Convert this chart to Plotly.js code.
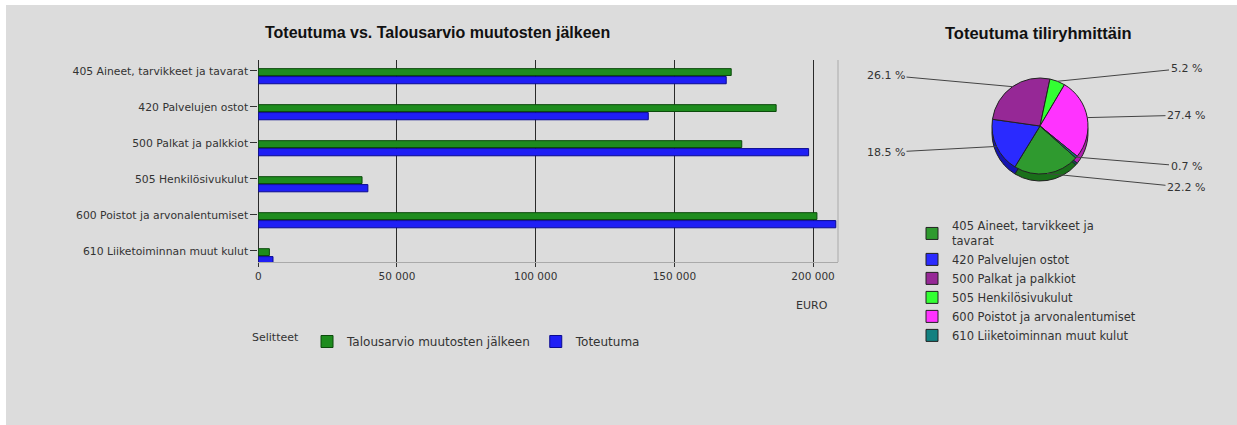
<!DOCTYPE html>
<html>
<head>
<meta charset="utf-8">
<script src="https://cdn.plot.ly/plotly-3.0.1.min.js"></script>
<style>html,body{margin:0;padding:0;background:#fff;}#chart{width:1237px;height:425px;}</style>
</head>
<body>
<div id="chart"></div>
<script>
// ---- data ----
const categories = [
  "405 Aineet, tarvikkeet ja tavarat",
  "420 Palvelujen ostot",
  "500 Palkat ja palkkiot",
  "505 Henkilösivukulut",
  "600 Poistot ja arvonalentumiset",
  "610 Liiketoiminnan muut kulut"
];
const pieLabels = [
  "405 Aineet, tarvikkeet ja<br>tavarat",
  "420 Palvelujen ostot",
  "500 Palkat ja palkkiot",
  "505 Henkilösivukulut",
  "600 Poistot ja arvonalentumiset",
  "610 Liiketoiminnan muut kulut"
];
const budget = [170500, 186700, 174300, 37400, 201400, 4000];   // Talousarvio muutosten jälkeen
const actual = [168700, 140600, 198400, 39500, 208200, 5300];   // Toteutuma
const seriesNames = ["Talousarvio muutosten jälkeen", "Toteutuma"];
const xTickVals = [0, 50000, 100000, 150000, 200000];

// ---- styles ----
const W = 1237, H = 425;
const FONT = "DejaVu Sans, Verdana, sans-serif";
const TFONT = "Liberation Sans, Arial, sans-serif";
const TXT = "#333";
const pieColors = ["#2f9a2f", "#2a2aff", "#962896", "#33ff33", "#ff33ff", "#128080"];
const pieShadow = ["#1a701a", "#1414b0", "#5e125e", "#1fb01f", "#b01fb0", "#0a5858"];

// pie geometry (pixels)
const pcx = 1040, pcy = 126, pr = 48, depth = 7;
const pieDomain = (dy) => ({
  x: [(pcx - pr) / W, (pcx + pr) / W],
  y: [1 - (pcy + pr + dy) / H, 1 - (pcy - pr + dy) / H]
});
const rotation = 131.7;

const traces = [
  {
    type: "bar", orientation: "h", name: seriesNames[0],
    y: categories, x: budget, offset: -0.06, width: 0.19,
    marker: {color: "#1e8c1e", line: {color: "#0c4a0c", width: 1}},
    hoverinfo: "skip", legend: "legend"
  },
  {
    type: "bar", orientation: "h", name: seriesNames[1],
    y: categories, x: actual, offset: 0.16, width: 0.2,
    marker: {color: "#1f1ff5", line: {color: "#0a0a90", width: 1}},
    hoverinfo: "skip", legend: "legend"
  },
  {
    type: "pie", labels: pieLabels, values: actual, sort: false,
    direction: "clockwise", rotation: rotation, textinfo: "none",
    hoverinfo: "skip", showlegend: false, legend: "legend2",
    marker: {colors: pieShadow, line: {color: "#222", width: 1}},
    domain: pieDomain(depth)
  },
  {
    type: "pie", labels: pieLabels, values: actual, sort: false,
    direction: "clockwise", rotation: rotation, textinfo: "none",
    hoverinfo: "skip", legend: "legend2",
    marker: {colors: pieColors, line: {color: "#222", width: 1}},
    domain: pieDomain(0)
  }
];

// pie percentage labels computed from the data
const total = actual.reduce((a, b) => a + b, 0);
let cum = 0;
const pieAnns = actual.map((v) => {
  const mid = (rotation + 360 * (cum + v / 2) / total) * Math.PI / 180;
  cum += v;
  const px = pcx + pr * Math.sin(mid);
  const py = pcy - pr * Math.cos(mid);
  const right = Math.sin(mid) > 0;
  const lx = right ? 1186 : 886;
  const ly = pcy - 62 * Math.cos(mid);
  return {
    xref: "paper", yref: "paper", x: px / W, y: 1 - py / H,
    ax: lx - px, ay: ly - py, showarrow: true, arrowhead: 0,
    arrowwidth: 1, arrowcolor: "#444", standoff: 0,
    text: (v / total * 100).toFixed(1) + " %",
    font: {family: FONT, size: 11, color: TXT}
  };
});

const layout = {
  width: W, height: H, autosize: false,
  margin: {l: 0, r: 0, t: 0, b: 0},
  paper_bgcolor: "#ffffff", plot_bgcolor: "rgba(0,0,0,0)",
  separators: ". ",
  font: {family: FONT, color: TXT},
  barmode: "overlay",
  xaxis: {
    domain: [258.3 / W, 838 / W], range: [0, 209000],
    tickvals: xTickVals, tickformat: ",d",
    showgrid: true, gridcolor: "#2a2a2a", gridwidth: 1,
    zeroline: true, zerolinecolor: "#2a2a2a", zerolinewidth: 1,
    showline: true, linecolor: "#aaaaaa", linewidth: 1,
    ticks: "outside", ticklen: 4, tickcolor: "#333",
    tickfont: {family: FONT, size: 10.5, color: TXT}, fixedrange: true
  },
  yaxis: {
    domain: [1 - 262 / H, 1 - 60 / H], type: "category",
    categoryorder: "array", categoryarray: categories,
    range: [5.31, -0.3], showgrid: false, zeroline: false, showline: false,
    ticks: "outside", ticklen: 7, tickcolor: "#333",
    tickfont: {family: FONT, size: 10.8, color: TXT}, fixedrange: true
  },
  legend: {
    orientation: "h", x: 250 / W, y: 1 - 327 / H, xanchor: "left", yanchor: "top",
    bgcolor: "rgba(0,0,0,0)", font: {family: FONT, size: 12, color: TXT},
    title: {text: "Selitteet", side: "left", font: {family: FONT, size: 11, color: TXT}},
    itemclick: false, itemdoubleclick: false
  },
  legend2: {
    orientation: "v", x: 912 / W, y: 1 - 212 / H, xanchor: "left", yanchor: "top",
    bgcolor: "rgba(0,0,0,0)", font: {family: FONT, size: 11.5, color: TXT},
    itemclick: false, itemdoubleclick: false
  },
  shapes: [
    {type: "rect", xref: "paper", yref: "paper", x0: 6 / W, x1: 1, y0: 0, y1: 1 - 5 / H,
     fillcolor: "#dcdcdc", line: {width: 0}, layer: "below"},
    {type: "line", xref: "x domain", yref: "y domain", x0: 1, x1: 1, y0: 0, y1: 1,
     line: {color: "#aaaaaa", width: 1}, layer: "below"}
  ],
  annotations: [
    {xref: "paper", yref: "paper", x: 437 / W, y: 1 - 33 / H, showarrow: false,
     xanchor: "center", yanchor: "middle",
     text: "<b>Toteutuma vs. Talousarvio muutosten jälkeen</b>",
     font: {family: TFONT, size: 16, color: "#111"}},
    {xref: "paper", yref: "paper", x: 1038 / W, y: 1 - 33 / H, showarrow: false,
     xanchor: "center", yanchor: "middle",
     text: "<b>Toteutuma tiliryhmittäin</b>",
     font: {family: TFONT, size: 16.5, color: "#111"}},
    {xref: "paper", yref: "paper", x: 812 / W, y: 1 - 305 / H, showarrow: false,
     xanchor: "center", yanchor: "middle",
     text: "EURO", font: {family: FONT, size: 11, color: TXT}}
  ].concat(pieAnns)
};

Plotly.newPlot("chart", traces, layout, {displayModeBar: false, staticPlot: true});
</script>
</body>
</html>
